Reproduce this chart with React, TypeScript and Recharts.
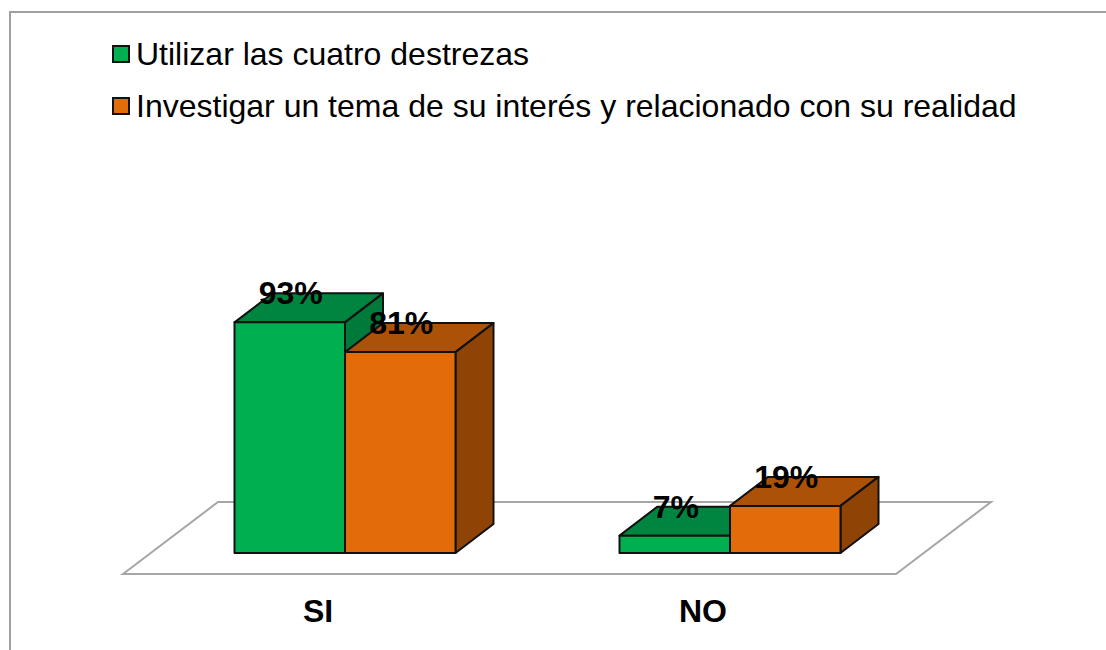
import React from "react";
import {
  Bar,
  BarChart,
  Customized,
  LabelList,
  Legend,
  XAxis,
  YAxis,
  usePlotArea,
} from "recharts";

const categories = ["SI", "NO"];
const destrezas = [93, 7];
const investigar = [81, 19];

const data = categories.map((name, i) => ({
  name,
  destrezas: destrezas[i],
  investigar: investigar[i],
}));

const FONT = "'Liberation Sans', Arial, sans-serif";
const DEPTH_X = 38;
const DEPTH_Y = 29;

const GREEN = { front: "#00B050", top: "#008540", side: "#007A3A" };
const ORANGE = { front: "#E36C0A", top: "#AC5208", side: "#8F4406" };

const box3d = (colors: typeof GREEN) => (props: any) => {
  const { x, y, width, height } = props;
  const r = x + width;
  const b = y + height;
  const stroke = { stroke: "#111", strokeWidth: 2, strokeLinejoin: "round" as const };
  return (
    <g>
      <path
        d={`M${x},${y} L${x + DEPTH_X},${y - DEPTH_Y} H${r + DEPTH_X} L${r},${y} Z`}
        fill={colors.top}
        {...stroke}
      />
      <path
        d={`M${r},${y} L${r + DEPTH_X},${y - DEPTH_Y} V${b - DEPTH_Y} L${r},${b} Z`}
        fill={colors.side}
        {...stroke}
      />
      <rect x={x} y={y} width={width} height={height} fill={colors.front} {...stroke} />
    </g>
  );
};

const Floor = () => {
  const plot = usePlotArea();
  if (!plot) return null;
  const left = plot.x - 29.5;
  const right = plot.x + plot.width - 26.5;
  const front = plot.y + plot.height + 21;
  const back = front - 72;
  return (
    <path
      d={`M${left},${front} L${left + 95},${back} H${right + 95} L${right},${front} Z`}
      fill="#fff"
      stroke="#A6A6A6"
      strokeWidth={2}
    />
  );
};

const ValueLabel = (props: any) => {
  const { x, y, width, value } = props;
  return (
    <text
      x={x + width / 2 + 1}
      y={y - 18}
      textAnchor="middle"
      fontFamily={FONT}
      fontWeight="bold"
      fontSize={32}
      fill="#000"
    >
      {value}%
    </text>
  );
};

const CategoryTick = (props: any) => {
  const { x, y, payload } = props;
  return (
    <text
      x={x - 27}
      y={y + 61}
      textAnchor="middle"
      fontFamily={FONT}
      fontWeight="bold"
      fontSize={32}
      fill="#000"
    >
      {payload.value}
    </text>
  );
};

const LegendBox = ({ payload }: any) => (
  <div>
    {payload.map((item: any) => (
      <div
        key={item.value}
        style={{
          display: "flex",
          alignItems: "center",
          height: 52,
          fontFamily: FONT,
          fontSize: 32,
          color: "#000",
          whiteSpace: "nowrap",
        }}
      >
        <span
          style={{
            display: "inline-block",
            boxSizing: "border-box",
            width: 18,
            height: 18,
            marginRight: 6,
            background: item.color,
            border: "2px solid #111",
          }}
        />
        {item.value}
      </div>
    ))}
  </div>
);

export default function App() {
  return (
    <div style={{ position: "absolute", left: 0, top: 0, width: 1106, height: 650, background: "#fff" }}>
      <div
        style={{
          position: "absolute",
          left: 9,
          top: 11,
          right: 0,
          bottom: 0,
          borderLeft: "2px solid #A0A0A0",
          borderTop: "2px solid #A0A0A0",
        }}
      />
      <BarChart
        width={1106}
        height={650}
        data={data}
        barSize={110.5}
        barGap={0}
        margin={{ top: 305, right: 183.5, bottom: 0, left: 152.5 }}
        style={{ position: "absolute", left: 0, top: 0 }}
      >
        <Customized component={Floor} />
        <XAxis
          dataKey="name"
          axisLine={false}
          tickLine={false}
          height={97}
          tick={<CategoryTick />}
          interval={0}
        />
        <YAxis hide domain={[0, 100]} />
        <Legend
          layout="horizontal"
          align="center"
          verticalAlign="middle"
          itemSorter={null}
          content={<LegendBox />}
          wrapperStyle={{ left: 112, top: 28, width: "auto" }}
        />
        <Bar
          dataKey="destrezas"
          name="Utilizar las cuatro destrezas"
          fill={GREEN.front}
          shape={box3d(GREEN)}
          isAnimationActive={false}
        >
          <LabelList dataKey="destrezas" content={<ValueLabel />} />
        </Bar>
        <Bar
          dataKey="investigar"
          name="Investigar un tema de su interés y relacionado con su realidad"
          fill={ORANGE.front}
          shape={box3d(ORANGE)}
          isAnimationActive={false}
        >
          <LabelList dataKey="investigar" content={<ValueLabel />} />
        </Bar>
      </BarChart>
    </div>
  );
}
